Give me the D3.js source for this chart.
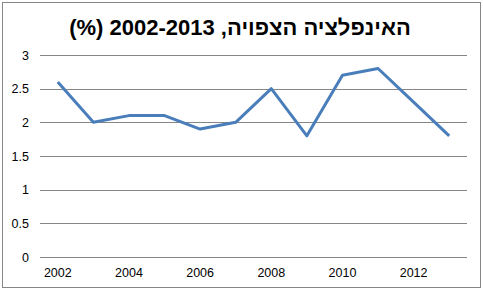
<!DOCTYPE html>
<html>
<head>
<meta charset="utf-8">
<script src="https://cdn.jsdelivr.net/npm/d3@7"></script>
<style>
  body { margin: 0; background: #fff; }
  svg { display: block; font-family: "Liberation Sans", Arial, sans-serif; }
</style>
</head>
<body>
<div id="chart"></div>
<script>
// Datos
const years = [2002, 2003, 2004, 2005, 2006, 2007, 2008, 2009, 2010, 2011, 2012, 2013];
const inflation = [2.6, 2.0, 2.1, 2.1, 1.9, 2.0, 2.5, 1.8, 2.7, 2.8, 2.3, 1.8];
const yTicks = [0, 0.5, 1, 1.5, 2, 2.5, 3];
const xLabels = [2002, 2004, 2006, 2008, 2010, 2012];
const title = "האינפלציה הצפויה, 2002-2013 (%)";

const width = 483, height = 291;
const plot = { left: 40, right: 467, top: 55, bottom: 257 };

const svg = d3.select("#chart").append("svg")
    .attr("width", width)
    .attr("height", height);

// Marco
svg.append("rect")
    .attr("x", 2.5).attr("y", 2.5)
    .attr("width", 478).attr("height", 285)
    .attr("fill", "#fff")
    .attr("stroke", "#868686")
    .attr("stroke-width", 1);

// Escalas
const x = d3.scaleBand()
    .domain(years)
    .range([plot.left, plot.right]);

const y = d3.scaleLinear()
    .domain([0, 3])
    .range([plot.bottom, plot.top]);

// Eje Y (solo etiquetas)
const yAxis = d3.axisLeft(y)
    .tickValues(yTicks)
    .tickSize(0)
    .tickPadding(11)
    .tickFormat(d => d);

const gy = svg.append("g")
    .attr("transform", `translate(${plot.left},0)`)
    .call(yAxis);
gy.select(".domain").remove();
gy.selectAll("text").attr("font-size", 12.5).attr("fill", "#000").attr("font-family", null);

// Rejilla
svg.append("g")
    .selectAll("line")
    .data(yTicks)
    .join("line")
    .attr("x1", plot.left)
    .attr("x2", plot.right)
    .attr("y1", d => Math.round(y(d)) + 0.5)
    .attr("y2", d => Math.round(y(d)) + 0.5)
    .attr("stroke", "#868686")
    .attr("stroke-width", 1);

// Eje X
const xAxis = d3.axisBottom(x)
    .tickValues(xLabels)
    .tickSize(0)
    .tickPadding(11);

const gx = svg.append("g")
    .attr("transform", `translate(0,${plot.bottom})`)
    .call(xAxis);
gx.select(".domain").remove();
gx.selectAll("text").attr("font-size", 12.5).attr("fill", "#000").attr("font-family", null);

// Línea
const line = d3.line()
    .x((d, i) => x(years[i]) + x.bandwidth() / 2)
    .y(d => y(d));

svg.append("path")
    .datum(inflation)
    .attr("d", line)
    .attr("fill", "none")
    .attr("stroke", "#4A7EBB")
    .attr("stroke-width", 3)
    .attr("stroke-linejoin", "round");

// Título (párrafo de derecha a izquierda)
svg.append("text")
    .attr("x", 240)
    .attr("y", 35)
    .attr("text-anchor", "middle")
    .attr("direction", "rtl")
    .attr("font-size", 22)
    .attr("font-weight", "bold")
    .text(title);
</script>
</body>
</html>
